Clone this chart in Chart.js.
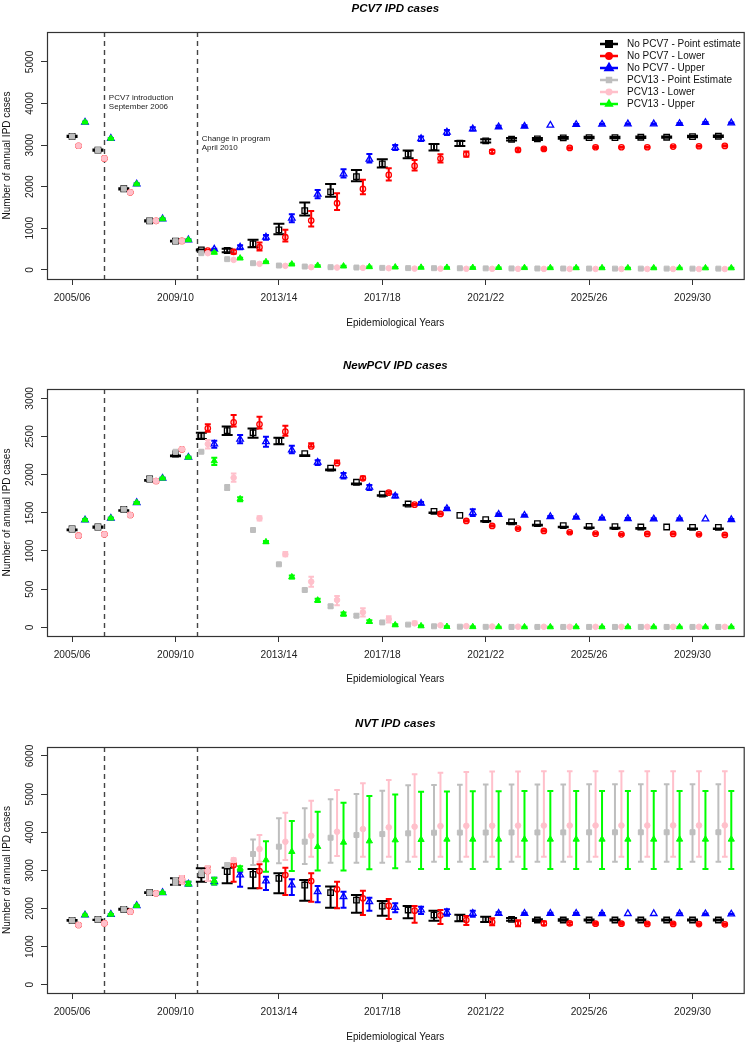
<!DOCTYPE html>
<html>
<head>
<meta charset="utf-8">
<script src="https://cdn.jsdelivr.net/npm/chart.js@4.4.0/dist/chart.umd.min.js"></script>
<style>
  html, body { margin: 0; padding: 0; background: #fff; overflow: hidden; }
  .panel { position: absolute; left: 0; width: 749px; }
  canvas { display: block; }
</style>
</head>
<body>
<div class="panel" style="top:0"><canvas id="pcv7" width="749" height="357"></canvas></div>
<div class="panel" style="top:357px"><canvas id="newpcv" width="749" height="358"></canvas></div>
<div class="panel" style="top:715px"><canvas id="nvt" width="749" height="331"></canvas></div>
<script>
const years = ['2005/06', '2006/07', '2007/08', '2008/09', '2009/10', '2010/11', '2011/12', '2012/13', '2013/14',
  '2014/15', '2015/16', '2016/17', '2017/18', '2018/19', '2019/20', '2020/21', '2021/22', '2022/23', '2023/24',
  '2024/25', '2025/26', '2026/27', '2027/28', '2028/29', '2029/30', '2030/31'];
const yearTicks = [0, 4, 8, 12, 16, 20, 24];
const seriesLabels = ['No PCV7 - Point estimate', 'No PCV7 - Lower', 'No PCV7 - Upper',
  'PCV13 - Point Estimate', 'PCV13 - Lower', 'PCV13 - Upper'];
// PCV7 introduction (Sept 2006) and change in program (April 2010)
const eventLines = [1.23, 4.82];

// PCV7 IPD cases
const pcv7NoPt = [3210, 2880, 1950, 1180, 690, 481, 465, 625, 962, 1426, 1875, 2244, 2548, 2781, 2949, 3045, 3101, 3141, 3149, 3173, 3181, 3181, 3189, 3189, 3205, 3213];
const pcv7NoPtLo = [3192, 2862, 1932, 1165, 680, 468, 425, 545, 857, 1306, 1755, 2132, 2460, 2685, 2869, 2981, 3061, 3110, 3125, 3152, 3162, 3165, 3172, 3175, 3188, 3196];
const pcv7NoPtHi = [3222, 2892, 1962, 1192, 698, 492, 505, 721, 1106, 1618, 2067, 2404, 2660, 2868, 3029, 3101, 3141, 3170, 3172, 3194, 3200, 3198, 3206, 3205, 3222, 3230];
const pcv7NoLo = [2985, 2680, 1865, 1180, 695, 465, 433, 545, 785, 1186, 1603, 1947, 2284, 2500, 2677, 2781, 2845, 2885, 2909, 2933, 2949, 2949, 2949, 2965, 2973, 2981];
const pcv7NoLoLo = [2975, 2670, 1855, 1172, 688, 452, 385, 465, 681, 1042, 1442, 1819, 2148, 2388, 2580, 2717, 2805, 2855, 2885, 2915, 2932, 2935, 2935, 2952, 2960, 2968];
const pcv7NoLoHi = [2995, 2690, 1875, 1188, 702, 478, 481, 657, 962, 1418, 1843, 2164, 2444, 2644, 2781, 2845, 2885, 2915, 2933, 2950, 2965, 2962, 2962, 2978, 2986, 2994];
const pcv7NoUp = [3550, 3160, 2064, 1224, 720, 497, 545, 785, 1242, 1819, 2308, 2660, 2941, 3157, 3310, 3390, 3438, 3454, 3478, 3494, 3502, 3510, 3510, 3518, 3542, 3534];
const pcv7NoUpLo = [3538, 3148, 2052, 1214, 712, 485, 497, 721, 1146, 1723, 2220, 2580, 2885, 3101, 3245, 3350, 3410, 3430, 3478, 3482, 3490, 3498, 3498, 3506, 3530, 3522];
const pcv7NoUpHi = [3562, 3172, 2076, 1234, 728, 509, 593, 841, 1338, 1923, 2420, 2789, 3005, 3205, 3366, 3430, 3466, 3478, 3478, 3506, 3514, 3522, 3522, 3530, 3554, 3546];
const pcv7P13Pt = [3210, 2880, 1950, 1180, 690, 401, 257, 160, 104, 80, 64, 56, 48, 42, 40, 38, 36, 34, 33, 32, 31, 30, 30, 30, 29, 29];
const pcv7P13PtLo = [3200, 2870, 1940, 1172, 682, 392, 245, 150, 96, 72, 57, 50, 42, 37, 35, 33, 31, 29, 28, 27, 26, 25, 25, 25, 24, 24];
const pcv7P13PtHi = [3220, 2890, 1960, 1188, 698, 410, 268, 170, 112, 88, 71, 62, 54, 47, 45, 43, 41, 39, 38, 37, 36, 35, 35, 35, 34, 34];
const pcv7P13Lo = [2985, 2680, 1865, 1180, 695, 401, 240, 144, 96, 64, 56, 48, 40, 30, 28, 26, 25, 24, 23, 22, 22, 21, 21, 21, 20, 20];
const pcv7P13LoLo = [2975, 2670, 1855, 1172, 688, 392, 230, 135, 88, 57, 50, 42, 35, 25, 23, 21, 20, 19, 18, 17, 17, 16, 16, 16, 15, 15];
const pcv7P13LoHi = [2995, 2690, 1875, 1188, 702, 410, 250, 153, 104, 71, 62, 54, 45, 35, 33, 31, 30, 29, 28, 27, 27, 26, 26, 26, 25, 25];
const pcv7P13Up = [3550, 3160, 2064, 1224, 720, 417, 280, 192, 136, 104, 88, 72, 64, 58, 56, 54, 52, 50, 48, 47, 46, 45, 45, 45, 44, 44];
const pcv7P13UpLo = [3538, 3148, 2052, 1214, 712, 405, 268, 182, 127, 96, 80, 65, 57, 51, 49, 47, 45, 43, 41, 40, 39, 38, 38, 38, 37, 37];
const pcv7P13UpHi = [3562, 3172, 2076, 1234, 728, 429, 292, 202, 145, 112, 96, 79, 71, 65, 63, 61, 59, 57, 55, 54, 53, 52, 52, 52, 51, 51];

// NewPCV IPD cases
const newNoPt = [1288, 1314, 1545, 1943, 2270, 2510, 2576, 2549, 2441, 2275, 2085, 1900, 1745, 1615, 1518, 1467, 1410, 1380, 1358, 1332, 1322, 1318, 1314, 1314, 1310, 1310];
const newNoPtLo = [1270, 1305, 1528, 1920, 2240, 2466, 2520, 2484, 2397, 2245, 2058, 1875, 1722, 1595, 1497, 1467, 1385, 1357, 1335, 1310, 1300, 1296, 1292, 1314, 1288, 1288];
const newNoPtHi = [1280, 1320, 1535, 1930, 2250, 2549, 2630, 2606, 2484, 2255, 2066, 1883, 1730, 1603, 1505, 1467, 1393, 1365, 1343, 1318, 1308, 1304, 1300, 1314, 1296, 1296];
const newNoLo = [1200, 1218, 1471, 1917, 2332, 2607, 2686, 2659, 2563, 2370, 2150, 1952, 1764, 1607, 1485, 1393, 1328, 1293, 1262, 1245, 1227, 1218, 1223, 1223, 1218, 1210];
const newNoLoLo = [1192, 1210, 1463, 1909, 2322, 2563, 2630, 2606, 2510, 2365, 2148, 1935, 1750, 1598, 1477, 1385, 1320, 1285, 1254, 1237, 1219, 1210, 1215, 1215, 1210, 1202];
const newNoLoHi = [1208, 1226, 1479, 1925, 2345, 2659, 2781, 2759, 2641, 2410, 2185, 1975, 1778, 1616, 1493, 1401, 1336, 1301, 1270, 1253, 1235, 1226, 1231, 1231, 1226, 1218];
const newNoUp = [1406, 1428, 1633, 1952, 2227, 2401, 2463, 2432, 2323, 2162, 1986, 1834, 1720, 1625, 1555, 1502, 1480, 1467, 1450, 1441, 1428, 1424, 1419, 1419, 1419, 1410];
const newNoUpLo = [1398, 1420, 1625, 1944, 2218, 2353, 2410, 2366, 2279, 2125, 1950, 1800, 1700, 1610, 1545, 1459, 1470, 1458, 1441, 1432, 1419, 1415, 1410, 1410, 1419, 1401];
const newNoUpHi = [1414, 1436, 1641, 1960, 2236, 2445, 2520, 2497, 2380, 2190, 2020, 1865, 1740, 1640, 1565, 1546, 1490, 1476, 1459, 1450, 1437, 1433, 1428, 1428, 1419, 1419];
const newP13Pt = [1288, 1314, 1545, 1943, 2300, 2300, 1829, 1275, 825, 489, 275, 152, 64, 35, 13, 8, 6, 5, 5, 5, 5, 5, 5, 5, 5, 5];
const newP13PtLo = [1280, 1306, 1537, 1935, 2290, 2288, 1799, 1262, 814, 472, 255, 135, 52, 28, 8, 4, 3, 2, 2, 2, 2, 2, 2, 2, 2, 2];
const newP13PtHi = [1296, 1322, 1553, 1951, 2310, 2312, 1864, 1288, 836, 506, 295, 170, 76, 42, 18, 12, 9, 8, 8, 8, 8, 8, 8, 8, 8, 8];
const newP13Lo = [1200, 1218, 1471, 1917, 2332, 2401, 1960, 1428, 957, 598, 358, 196, 107, 52, 26, 15, 10, 8, 7, 6, 6, 6, 6, 6, 6, 6];
const newP13LoLo = [1192, 1210, 1463, 1909, 2322, 2344, 1907, 1400, 930, 531, 289, 140, 64, 40, 20, 10, 6, 5, 4, 4, 4, 4, 4, 4, 4, 4];
const newP13LoHi = [1208, 1226, 1479, 1925, 2345, 2454, 2016, 1455, 985, 663, 411, 249, 145, 75, 35, 20, 14, 11, 10, 9, 9, 9, 9, 9, 9, 9];
const newP13Up = [1406, 1428, 1633, 1952, 2227, 2179, 1681, 1118, 659, 354, 174, 74, 30, 17, 9, 6, 5, 4, 4, 4, 4, 4, 4, 4, 4, 4];
const newP13UpLo = [1398, 1420, 1625, 1944, 2218, 2126, 1650, 1105, 640, 330, 150, 55, 22, 12, 6, 4, 3, 2, 2, 2, 2, 2, 2, 2, 2, 2];
const newP13UpHi = [1414, 1436, 1641, 1960, 2236, 2222, 1705, 1130, 680, 375, 195, 92, 40, 24, 13, 9, 7, 6, 6, 6, 6, 6, 6, 6, 6, 6];

// NVT IPD cases
const nvtNoPt = [1688, 1714, 1977, 2414, 2702, 2880, 2964, 2895, 2790, 2615, 2414, 2221, 2064, 1960, 1828, 1749, 1714, 1714, 1697, 1697, 1697, 1697, 1697, 1697, 1697, 1697];
const nvtNoPtLo = [1680, 1695, 1965, 2405, 2620, 2702, 2659, 2528, 2397, 2204, 2021, 1890, 1811, 1740, 1679, 1662, 1644, 1680, 1670, 1680, 1682, 1682, 1682, 1682, 1682, 1682];
const nvtNoPtHi = [1700, 1705, 1990, 2425, 2790, 3053, 3070, 3035, 2922, 2746, 2573, 2353, 2195, 2064, 1942, 1837, 1784, 1750, 1720, 1715, 1712, 1712, 1712, 1712, 1712, 1712];
const nvtNoLo = [1566, 1609, 1915, 2396, 2764, 2983, 3140, 2982, 2878, 2720, 2502, 2265, 2073, 1942, 1819, 1697, 1644, 1609, 1609, 1609, 1600, 1600, 1595, 1595, 1590, 1583];
const nvtNoLoLo = [1556, 1600, 1905, 2388, 2660, 2720, 2702, 2528, 2353, 2178, 2003, 1829, 1723, 1627, 1592, 1565, 1557, 1530, 1560, 1570, 1575, 1575, 1570, 1570, 1565, 1560];
const nvtNoLoHi = [1576, 1618, 1925, 2405, 2850, 3096, 3184, 3157, 3070, 2922, 2703, 2466, 2248, 2064, 1959, 1802, 1740, 1690, 1660, 1640, 1625, 1625, 1620, 1620, 1615, 1605];
const nvtNoUp = [1828, 1845, 2073, 2414, 2641, 2702, 2878, 2720, 2615, 2441, 2309, 2178, 2029, 1959, 1898, 1872, 1872, 1872, 1872, 1872, 1865, 1865, 1865, 1865, 1860, 1854];
const nvtNoUpLo = [1820, 1838, 2065, 2405, 2600, 2630, 2571, 2484, 2353, 2161, 2021, 1942, 1899, 1854, 1810, 1785, 1830, 1850, 1855, 1855, 1855, 1865, 1865, 1858, 1855, 1850];
const nvtNoUpHi = [1836, 1852, 2080, 2422, 2700, 2808, 2964, 2834, 2764, 2590, 2441, 2283, 2134, 2047, 1976, 1942, 1900, 1890, 1885, 1885, 1878, 1865, 1865, 1872, 1868, 1862];
const nvtP13Pt = [1688, 1714, 1977, 2414, 2702, 2922, 3140, 3428, 3621, 3751, 3856, 3926, 3951, 3971, 3988, 3990, 3992, 3994, 3995, 3996, 3997, 3998, 3998, 3999, 3999, 4000];
const nvtP13PtLo = [1680, 1705, 1970, 2405, 2620, 2850, 3100, 3140, 3184, 3166, 3201, 3201, 3201, 3227, 3227, 3227, 3227, 3227, 3227, 3227, 3227, 3227, 3227, 3227, 3227, 3227];
const nvtP13PtHi = [1700, 1722, 1985, 2422, 2790, 3000, 3180, 3812, 4364, 4626, 4862, 5003, 5090, 5230, 5240, 5245, 5250, 5252, 5255, 5255, 5258, 5258, 5260, 5260, 5260, 5260];
const nvtP13Lo = [1566, 1609, 1915, 2396, 2764, 2983, 3271, 3559, 3751, 3908, 4014, 4084, 4128, 4146, 4163, 4170, 4172, 4174, 4175, 4176, 4177, 4178, 4178, 4179, 4179, 4180];
const nvtP13LoLo = [1556, 1600, 1905, 2388, 2660, 2720, 3210, 3227, 3271, 3358, 3376, 3358, 3358, 3358, 3358, 3358, 3358, 3358, 3358, 3358, 3358, 3358, 3358, 3358, 3358, 3358];
const nvtP13LoHi = [1576, 1618, 1925, 2405, 2850, 3096, 3315, 3926, 4513, 4828, 5107, 5282, 5369, 5520, 5560, 5580, 5590, 5595, 5600, 5600, 5600, 5600, 5600, 5600, 5600, 5600];
const nvtP13Up = [1828, 1845, 2073, 2414, 2641, 2729, 3053, 3271, 3490, 3621, 3734, 3768, 3795, 3805, 3813, 3813, 3813, 3813, 3813, 3813, 3813, 3813, 3813, 3813, 3813, 3813];
const nvtP13UpLo = [1820, 1838, 2065, 2405, 2600, 2630, 2990, 2964, 2983, 2999, 2999, 3026, 3052, 3035, 3035, 3035, 3035, 3035, 3035, 3035, 3035, 3035, 3035, 3035, 3035, 3035];
const nvtP13UpHi = [1836, 1852, 2080, 2422, 2700, 2808, 3110, 3760, 4294, 4539, 4775, 4950, 4993, 5064, 5070, 5075, 5078, 5080, 5080, 5080, 5080, 5080, 5080, 5080, 5080, 5080];

// marker, colour and dodge for each of the six series
const seriesStyle = [
  { color: '#000000', shape: 'rect', radius: 3.9, fill: false, shift: 0, cap: 5.5 },
  { color: '#ff0000', shape: 'circle', radius: 2.7, fill: false, shift: 0.25, cap: 3 },
  { color: '#0000ff', shape: 'triangle', radius: 3.8, fill: false, shift: 0.5, cap: 3 },
  { color: '#bebebe', shape: 'rect', radius: 3.5, fill: true, shift: 0, cap: 2.8 },
  { color: '#ffc0cb', shape: 'circle', radius: 2.8, fill: true, shift: 0.25, cap: 2.8 },
  { color: '#00ff00', shape: 'triangle', radius: 3.6, fill: true, shift: 0.5, cap: 3 }
];

const textFont = 'Liberation Sans, Arial, sans-serif';

// error bars drawn right after each series' markers
const errorBars = {
  id: 'errorBars',
  afterDatasetDraw(chart, args) {
    const ds = chart.data.datasets[args.index];
    const yScale = chart.scales.y;
    const ctx = chart.ctx;
    ctx.save();
    ctx.strokeStyle = ds.borderColor;
    ctx.lineWidth = 2;
    args.meta.data.forEach((pt, i) => {
      if (ds.hi[i] === ds.lo[i]) return; // R skips zero-length arrows
      const top = yScale.getPixelForValue(ds.hi[i]);
      const bot = yScale.getPixelForValue(ds.lo[i]);
      ctx.beginPath();
      ctx.moveTo(pt.x, top); ctx.lineTo(pt.x, bot);
      ctx.moveTo(pt.x - ds.cap, top); ctx.lineTo(pt.x + ds.cap, top);
      ctx.moveTo(pt.x - ds.cap, bot); ctx.lineTo(pt.x + ds.cap, bot);
      ctx.stroke();
    });
    ctx.restore();
  }
};

// dashed event lines, plot box, notes and legend
const frame = {
  id: 'frame',
  beforeDatasetsDraw(chart) {
    const { ctx, chartArea: a, scales: { x } } = chart;
    ctx.save();
    ctx.strokeStyle = '#444';
    ctx.lineWidth = 1.4;
    ctx.setLineDash([5, 4]);
    eventLines.forEach(v => {
      const px = Math.round(x.getPixelForValue(v)) + 0.5;
      ctx.beginPath();
      ctx.moveTo(px, a.top);
      ctx.lineTo(px, a.bottom);
      ctx.stroke();
    });
    ctx.restore();
  },
  afterDraw(chart, args, opts) {
    const { ctx, chartArea: a, scales: { x, y } } = chart;
    ctx.save();
    ctx.strokeStyle = '#333';
    ctx.lineWidth = 1.2;
    ctx.strokeRect(a.left + 0.5, a.top + 0.5, a.right - a.left, a.bottom - a.top);

    ctx.fillStyle = '#222';
    ctx.font = '8px ' + textFont;
    ctx.textBaseline = 'middle';
    ctx.textAlign = 'left';
    (opts.notes || []).forEach(n => {
      ctx.fillText(n.text, x.getPixelForValue(n.x) + 5, y.getPixelForValue(n.y));
    });

    if (opts.legend) {
      ctx.font = '10px ' + textFont;
      chart.data.datasets.forEach((ds, i) => {
        const ly = 44 + i * 12;
        ctx.strokeStyle = ds.borderColor;
        ctx.fillStyle = ds.borderColor;
        ctx.lineWidth = 2.5;
        ctx.beginPath();
        ctx.moveTo(600, ly);
        ctx.lineTo(618, ly);
        ctx.stroke();
        Chart.helpers.drawPoint(ctx, {
          pointStyle: ds.pointStyle,
          radius: i < 3 ? ds.pointRadius : ds.pointRadius * 0.8,
          borderWidth: 1,
          rotation: 0
        }, 609, ly);
        ctx.fillStyle = '#111';
        ctx.fillText(ds.label, 627, ly);
      });
    }
    ctx.restore();
  }
};

function buildChart(id, title, series, yMin, yMax, yTicks, axisHeight, xTitlePad, frameOpts) {
  const datasets = series.map((s, k) => ({
    label: seriesLabels[k],
    data: s.mid.map((v, i) => ({ x: i + seriesStyle[k].shift, y: v })),
    lo: s.lo,
    hi: s.hi,
    cap: seriesStyle[k].cap,
    showLine: false,
    pointStyle: seriesStyle[k].shape,
    pointRadius: seriesStyle[k].radius,
    pointBorderWidth: seriesStyle[k].fill ? 1 : 1.3,
    borderColor: seriesStyle[k].color,
    pointBackgroundColor: seriesStyle[k].fill ? seriesStyle[k].color : 'rgba(0,0,0,0)',
    order: 6 - k
  }));

  return new Chart(document.getElementById(id), {
    type: 'scatter',
    data: { datasets },
    plugins: [errorBars, frame],
    options: {
      responsive: false,
      animation: false,
      devicePixelRatio: 1,
      layout: { padding: { left: 0, right: 4, top: 0, bottom: 0 } },
      plugins: {
        legend: { display: false },
        tooltip: { enabled: false },
        title: {
          display: true,
          text: title,
          fullSize: false,
          color: '#000',
          font: { family: textFont, size: 11.5, weight: 'bold', style: 'italic' },
          padding: { top: 1.6, bottom: 16.6 }
        },
        frame: frameOpts
      },
      scales: {
        x: {
          type: 'linear',
          min: -0.97,
          max: 25.98,
          afterBuildTicks: scale => { scale.ticks = yearTicks.map(v => ({ value: v })); },
          afterFit: scale => { scale.height = axisHeight; },
          ticks: {
            callback: v => years[Math.round(v)],
            color: '#222',
            font: { family: textFont, size: 10.2 },
            padding: 7.5,
            maxRotation: 0
          },
          grid: { drawOnChartArea: false, drawTicks: true, tickLength: 6, color: '#333' },
          border: { display: false },
          title: {
            display: true,
            text: 'Epidemiological Years',
            color: '#111',
            font: { family: textFont, size: 10 },
            padding: { top: 0, bottom: xTitlePad }
          }
        },
        y: {
          min: yMin,
          max: yMax,
          afterBuildTicks: scale => { scale.ticks = yTicks.map(v => ({ value: v })); },
          afterFit: scale => { scale.width = 47; },
          ticks: {
            callback: v => String(v),
            color: '#222',
            font: { family: textFont, size: 10.2 },
            minRotation: 90,
            maxRotation: 90,
            crossAlign: 'center',
            padding: -1
          },
          grid: { drawOnChartArea: false, drawTicks: true, tickLength: 6, color: '#333' },
          border: { display: false },
          title: {
            display: true,
            text: 'Number of annual IPD cases',
            color: '#111',
            font: { family: textFont, size: 10 },
            padding: { top: 1, bottom: 0 }
          }
        }
      }
    }
  });
}

buildChart('pcv7', 'PCV7 IPD cases', [
  { mid: pcv7NoPt, lo: pcv7NoPtLo, hi: pcv7NoPtHi },
  { mid: pcv7NoLo, lo: pcv7NoLoLo, hi: pcv7NoLoHi },
  { mid: pcv7NoUp, lo: pcv7NoUpLo, hi: pcv7NoUpHi },
  { mid: pcv7P13Pt, lo: pcv7P13PtLo, hi: pcv7P13PtHi },
  { mid: pcv7P13Lo, lo: pcv7P13LoLo, hi: pcv7P13LoHi },
  { mid: pcv7P13Up, lo: pcv7P13UpLo, hi: pcv7P13UpHi }
], -220, 5720, [0, 1000, 2000, 3000, 4000, 5000], 78, 28, {
  legend: true,
  notes: [
    { text: 'PCV7 introduction', x: eventLines[0], y: 4130 },
    { text: 'September 2006', x: eventLines[0], y: 3915 },
    { text: 'Change in program', x: eventLines[1], y: 3150 },
    { text: 'April 2010', x: eventLines[1], y: 2935 }
  ]
});

buildChart('newpcv', 'NewPCV IPD cases', [
  { mid: newNoPt, lo: newNoPtLo, hi: newNoPtHi },
  { mid: newNoLo, lo: newNoLoLo, hi: newNoLoHi },
  { mid: newNoUp, lo: newNoUpLo, hi: newNoUpHi },
  { mid: newP13Pt, lo: newP13PtLo, hi: newP13PtHi },
  { mid: newP13Lo, lo: newP13LoLo, hi: newP13LoHi },
  { mid: newP13Up, lo: newP13UpLo, hi: newP13UpHi }
], -114, 3122, [0, 500, 1000, 1500, 2000, 2500, 3000], 79, 30, { legend: false });

buildChart('nvt', 'NVT IPD cases', [
  { mid: nvtNoPt, lo: nvtNoPtLo, hi: nvtNoPtHi },
  { mid: nvtNoLo, lo: nvtNoLoLo, hi: nvtNoLoHi },
  { mid: nvtNoUp, lo: nvtNoUpLo, hi: nvtNoUpHi },
  { mid: nvtP13Pt, lo: nvtP13PtLo, hi: nvtP13PtHi },
  { mid: nvtP13Lo, lo: nvtP13LoLo, hi: nvtP13LoHi },
  { mid: nvtP13Up, lo: nvtP13UpLo, hi: nvtP13UpHi }
], -218, 6236, [0, 1000, 2000, 3000, 4000, 5000, 6000], 53, 3, { legend: false });
</script>
</body>
</html>
